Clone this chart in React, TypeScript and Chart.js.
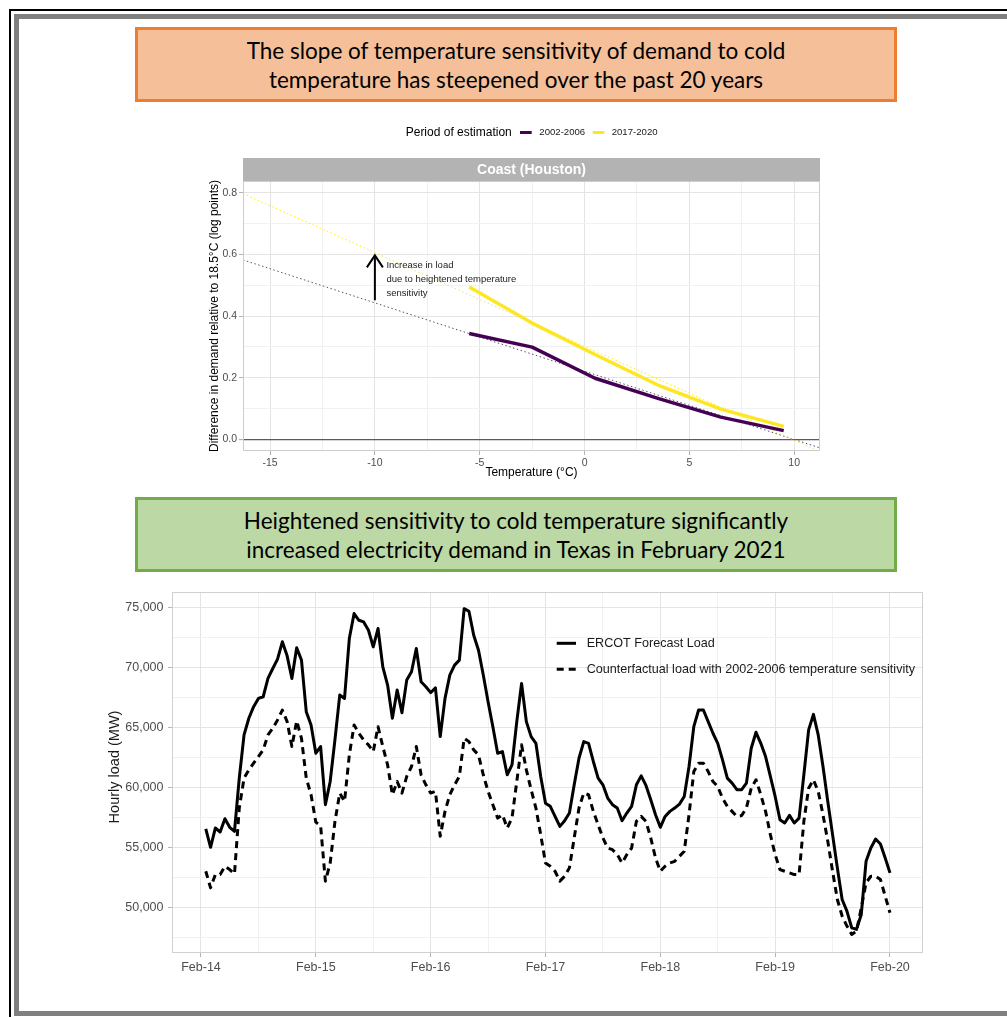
import React, { useEffect, useRef } from "react";
import { Chart, registerables } from "chart.js";

Chart.register(...registerables);

// ---------- Top panel: temperature sensitivity (Coast / Houston) ----------
const stripLabel = "Coast (Houston)";
const legendTitle = "Period of estimation";
const periodLabels = ["2002-2006", "2017-2020"];
const periodColors = ["#440154", "#FDE725"];

const tempKnots = [-5.5, -2.5, 0.5, 3.5, 6.5, 9.5];
const effect2002 = [0.343, 0.299, 0.198, 0.133, 0.072, 0.028];
const effect2017 = [0.494, 0.377, 0.275, 0.176, 0.098, 0.042];

const trendTemps = [-16.29, 11.23];
const trend2002 = [0.582, -0.028];
const trend2017 = [0.797, -0.04];

const tempTicks = [-15, -12.5, -10, -7.5, -5, -2.5, 0, 2.5, 5, 7.5, 10];
const tempLabelTicks = [-15, -10, -5, 0, 5, 10];
const effectTicks = [0, 0.1, 0.2, 0.3, 0.4, 0.5, 0.6, 0.7, 0.8];
const effectLabelTicks = [0, 0.2, 0.4, 0.6, 0.8];

const arrowTemp = -10;
const arrowFrom = 0.451;
const arrowTo = 0.6;
const annotationLines = ["Increase in load", "due to heightened temperature", "sensitivity"];

const topXTitle = "Temperature (°C)";
const topYTitle = "Difference in demand relative to 18.5°C (log points)";

// ---------- Bottom panel: hourly load ----------
const dayLabels = ["Feb-14", "Feb-15", "Feb-16", "Feb-17", "Feb-18", "Feb-19", "Feb-20"];
const dayGridHours = [0, 12, 24, 36, 48, 60, 72, 84, 96, 108, 120, 132, 144];
const loadTicks = [47500, 50000, 52500, 55000, 57500, 60000, 62500, 65000, 67500, 70000, 72500, 75000];
const firstHour = 1;

const ercotLoad = [
  56530, 55000, 56610, 56280, 57390, 56670, 56330, 60780, 64390, 65780, 66750, 67440,
  67580, 69110, 69940, 70720, 72170, 71000, 69110, 71670, 70640, 66330, 65220, 62860,
  63420, 58560, 60500, 64000, 67720, 67440, 72440, 74530, 73970, 73830, 73140, 71750,
  73280, 70080, 68560, 65780, 68140, 66250, 68970, 69670, 71610, 68830, 68420, 67920,
  68330, 64250, 67440, 69390, 70220, 70640, 74940, 74720, 72720, 71470, 69390, 67170,
  65080, 62860, 63000, 61060, 61890, 65500, 68690, 65500, 64250, 63690, 60920, 58690,
  58420, 57580, 56750, 57220, 57860, 60220, 62440, 63830, 63690, 62170, 60780, 60220,
  59110, 58560, 58280, 57220, 57860, 58420, 60220, 60970, 60170, 58970, 57720, 56670,
  57580, 58000, 58280, 58610, 59250, 61750, 65080, 66470, 66470, 65500, 64530, 63690,
  62310, 60780, 60360, 59810, 59810, 60360, 63280, 64610, 63690, 62580, 60920, 59250,
  57310, 57030, 57670, 57030, 57440, 61060, 64810, 66110, 64390, 61750, 58830, 56060,
  53280, 50640, 49670, 48280, 48140, 49390, 53830, 54940, 55690, 55280, 54110, 52860,
];

const counterfactualLoad = [
  53000, 51610, 52720, 52720, 53420, 53140, 52780, 58280, 60780, 61470, 62030, 62580,
  63140, 64390, 64940, 65640, 66470, 65500, 63420, 65560, 64110, 60780, 59390, 57100,
  56800, 52170, 53690, 57170, 59530, 58830, 62720, 65220, 64530, 63970, 63560, 63000,
  65080, 63420, 61890, 59390, 60500, 59530, 60920, 61750, 63420, 61060, 60220, 59530,
  59670, 55920, 58000, 59390, 60220, 60920, 64110, 63830, 63140, 62720, 61060, 59670,
  58560, 57440, 57720, 56610, 57440, 60500, 63560, 61470, 59810, 58280, 56060, 53690,
  53420, 53000, 52170, 52580, 53280, 55780, 58280, 59530, 59390, 58000, 56890, 55780,
  54940, 54800, 54390, 53690, 54390, 54940, 57170, 57580, 57170, 55780, 54110, 53000,
  53420, 53690, 53830, 54250, 54670, 57720, 61330, 62030, 62030, 61330, 60500, 60080,
  59110, 58420, 58000, 57580, 57650, 58300, 59940, 60640, 59390, 58000, 56060, 54390,
  53140, 53000, 52860, 52720, 52720, 57170, 59940, 60640, 59670, 57720, 55500, 53000,
  50640, 49250, 48420, 47720, 48000, 49940, 52030, 52580, 52580, 52310, 50920, 49530,
];

const seriesLabels = ["ERCOT Forecast Load", "Counterfactual load with 2002-2006 temperature sensitivity"];
const bottomYTitle = "Hourly load (MW)";

const FONT = '"Liberation Sans", Arial, sans-serif';
const MAJOR_GRID = "#E4E4E4";
const MINOR_GRID = "#F1F1F1";
const TICK_COLOR = "#B3B3B3";
const TICK_TEXT = "#4D4D4D";

const isIn = (arr: number[], v: number) => arr.some((a) => Math.abs(a - v) < 1e-6);

function TopChart() {
  const ref = useRef<HTMLCanvasElement | null>(null);
  useEffect(() => {
    const canvas = ref.current!;
    const decor = {
      id: "topDecor",
      afterDatasetsDraw(chart: any) {
        const { ctx, chartArea: a, scales } = chart;
        const x = scales.x;
        const y = scales.y;
        ctx.save();
        // arrow annotation
        const ax = x.getPixelForValue(arrowTemp);
        const y0 = y.getPixelForValue(arrowFrom);
        const y1 = y.getPixelForValue(arrowTo);
        ctx.strokeStyle = "#000";
        ctx.lineWidth = 2;
        ctx.beginPath();
        ctx.moveTo(ax, y0);
        ctx.lineTo(ax, y1 + 1);
        ctx.stroke();
        ctx.beginPath();
        ctx.moveTo(ax - 8, y1 + 13);
        ctx.lineTo(ax, y1 + 1);
        ctx.lineTo(ax + 8, y1 + 13);
        ctx.stroke();
        ctx.fillStyle = "#222";
        ctx.font = `9.5px ${FONT}`;
        ctx.textAlign = "left";
        ctx.textBaseline = "middle";
        annotationLines.forEach((t, i) => ctx.fillText(t, ax + 11.5, y1 + 11.5 + i * 14));
        // panel border
        ctx.strokeStyle = "#CDCDCD";
        ctx.lineWidth = 1;
        ctx.strokeRect(a.left + 0.5, a.top + 0.5, a.right - a.left - 1, a.bottom - a.top - 1);
        // strip
        ctx.fillStyle = "#B3B3B3";
        ctx.fillRect(a.left, 43, a.right - a.left, a.top - 43);
        ctx.fillStyle = "#fff";
        ctx.font = `bold 14px ${FONT}`;
        ctx.textAlign = "center";
        ctx.fillText(stripLabel, (a.left + a.right) / 2, (43 + a.top) / 2 + 0.5);
        // legend
        ctx.fillStyle = "#000";
        ctx.font = `12px ${FONT}`;
        ctx.textAlign = "left";
        ctx.fillText(legendTitle, 215.7, 17.5);
        const keyX = [330, 402.7];
        const textX = [349.3, 421.7];
        ctx.font = `9.6px ${FONT}`;
        periodLabels.forEach((lab, i) => {
          ctx.strokeStyle = periodColors[i];
          ctx.lineWidth = 3;
          ctx.beginPath();
          ctx.moveTo(keyX[i], 17.5);
          ctx.lineTo(keyX[i] + 11.7, 17.5);
          ctx.stroke();
          ctx.fillStyle = "#1a1a1a";
          ctx.fillText(lab, textX[i], 17.5);
        });
        // axis titles
        ctx.fillStyle = "#000";
        ctx.font = `12px ${FONT}`;
        ctx.textAlign = "center";
        ctx.fillText(topXTitle, (a.left + a.right) / 2, 358);
        ctx.translate(25, (a.top + a.bottom) / 2);
        ctx.rotate(-Math.PI / 2);
        ctx.fillText(topYTitle, 0, 0);
        ctx.restore();
      },
    };
    const toPts = (xs: number[], ys: number[]) => xs.map((v, i) => ({ x: v, y: ys[i] }));
    const chart = new Chart(canvas, {
      type: "scatter",
      data: {
        datasets: [
          { data: toPts(tempKnots, effect2017), showLine: true, borderColor: periodColors[1], borderWidth: 3.5, pointRadius: 0, borderCapStyle: "butt", borderJoinStyle: "round" },
          { data: toPts(tempKnots, effect2002), showLine: true, borderColor: periodColors[0], borderWidth: 3.5, pointRadius: 0, borderCapStyle: "butt", borderJoinStyle: "round" },
          { data: toPts(trendTemps, trend2017), showLine: true, borderColor: periodColors[1], borderWidth: 1, borderDash: [1.5, 2.5], pointRadius: 0 },
          { data: toPts(trendTemps, trend2002), showLine: true, borderColor: "#5B4A6E", borderWidth: 1, borderDash: [1.5, 2.5], pointRadius: 0 },
        ],
      } as any,
      options: {
        animation: false,
        responsive: false,
        maintainAspectRatio: false,
        layout: { padding: { left: 0, right: 10, top: 66, bottom: 0 } },
        plugins: { legend: { display: false }, tooltip: { enabled: false } },
        scales: {
          x: {
            type: "linear",
            min: trendTemps[0],
            max: trendTemps[1],
            afterBuildTicks: (s: any) => { s.ticks = tempTicks.map((v) => ({ value: v })); },
            afterFit: (s: any) => { s.height = 34; },
            border: { display: false },
            grid: {
              color: (c: any) => (isIn(tempLabelTicks, c.tick.value) ? MAJOR_GRID : MINOR_GRID),
              tickColor: (c: any) => (isIn(tempLabelTicks, c.tick.value) ? TICK_COLOR : "rgba(0,0,0,0)"),
              tickLength: 4,
              lineWidth: 1,
            },
            ticks: {
              autoSkip: false,
              maxRotation: 0,
              padding: 1.5,
              color: TICK_TEXT,
              font: { family: FONT, size: 10.5 },
              callback: (v: any) => (isIn(tempLabelTicks, Number(v)) ? String(v) : ""),
            },
          },
          y: {
            type: "linear",
            min: -0.038,
            max: 0.838,
            afterBuildTicks: (s: any) => { s.ticks = effectTicks.map((v) => ({ value: v })); },
            afterFit: (s: any) => { s.width = 53; },
            border: { display: false },
            grid: {
              color: (c: any) => (Math.abs(c.tick.value) < 1e-6 ? "#5A5A5A" : isIn(effectLabelTicks, c.tick.value) ? MAJOR_GRID : MINOR_GRID),
              lineWidth: (c: any) => (Math.abs(c.tick.value) < 1e-6 ? 1.2 : 1),
              tickColor: (c: any) => (isIn(effectLabelTicks, c.tick.value) ? TICK_COLOR : "rgba(0,0,0,0)"),
              tickLength: 4,
            },
            ticks: {
              autoSkip: false,
              padding: 2,
              color: TICK_TEXT,
              font: { family: FONT, size: 10.5 },
              callback: (v: any) => (isIn(effectLabelTicks, Number(v)) ? Number(v).toFixed(1) : ""),
            },
          },
        },
      } as any,
      plugins: [decor],
    });
    return () => chart.destroy();
  }, []);
  return (
    <canvas
      ref={ref}
      width={640}
      height={370}
      style={{ position: "absolute", left: 190, top: 115, width: 640, height: 370 }}
    />
  );
}

function BottomChart() {
  const ref = useRef<HTMLCanvasElement | null>(null);
  useEffect(() => {
    const canvas = ref.current!;
    const decor = {
      id: "bottomDecor",
      afterDatasetsDraw(chart: any) {
        const { ctx, chartArea: a } = chart;
        ctx.save();
        ctx.strokeStyle = "#D0D0D0";
        ctx.lineWidth = 1;
        ctx.strokeRect(a.left + 0.5, a.top + 0.5, a.right - a.left - 1, a.bottom - a.top - 1);
        // legend
        const ly = [63.3, 89.3];
        ctx.font = `12.6px ${FONT}`;
        ctx.textAlign = "left";
        ctx.textBaseline = "middle";
        seriesLabels.forEach((lab, i) => {
          ctx.strokeStyle = "#000";
          ctx.lineWidth = 3;
          ctx.setLineDash(i === 0 ? [] : [7, 5]);
          ctx.beginPath();
          ctx.moveTo(461.7, ly[i]);
          ctx.lineTo(481, ly[i]);
          ctx.stroke();
          ctx.setLineDash([]);
          ctx.fillStyle = "#1a1a1a";
          ctx.fillText(lab, 491.7, ly[i]);
        });
        // y title
        ctx.fillStyle = "#1a1a1a";
        ctx.font = `14.5px ${FONT}`;
        ctx.textAlign = "center";
        ctx.translate(19.5, 187);
        ctx.rotate(-Math.PI / 2);
        ctx.fillText(bottomYTitle, 0, 0);
        ctx.restore();
      },
    };
    const hours = ercotLoad.map((_, i) => firstHour + i);
    const chart = new Chart(canvas, {
      type: "scatter",
      data: {
        datasets: [
          { data: hours.map((h, i) => ({ x: h, y: ercotLoad[i] })), showLine: true, borderColor: "#000", borderWidth: 3, pointRadius: 0, borderJoinStyle: "round", borderCapStyle: "butt" },
          { data: hours.map((h, i) => ({ x: h, y: counterfactualLoad[i] })), showLine: true, borderColor: "#000", borderWidth: 3, borderDash: [7, 5], pointRadius: 0, borderJoinStyle: "round", borderCapStyle: "butt" },
        ],
      } as any,
      options: {
        animation: false,
        responsive: false,
        maintainAspectRatio: false,
        layout: { padding: { left: 0, right: 12, top: 10, bottom: 0 } },
        plugins: { legend: { display: false }, tooltip: { enabled: false } },
        scales: {
          x: {
            type: "linear",
            min: -6.06,
            max: 150.9,
            afterBuildTicks: (s: any) => { s.ticks = dayGridHours.map((v) => ({ value: v })); },
            afterFit: (s: any) => { s.height = 27; },
            border: { display: false },
            grid: {
              color: (c: any) => (c.tick.value % 24 === 0 ? MAJOR_GRID : MINOR_GRID),
              tickColor: (c: any) => (c.tick.value % 24 === 0 ? TICK_COLOR : "rgba(0,0,0,0)"),
              tickLength: 4,
              lineWidth: 1,
            },
            ticks: {
              autoSkip: false,
              maxRotation: 0,
              padding: 3,
              color: TICK_TEXT,
              font: { family: FONT, size: 12.5 },
              callback: (v: any) => (Number(v) % 24 === 0 ? dayLabels[Number(v) / 24] : ""),
            },
          },
          y: {
            type: "linear",
            min: 46167,
            max: 76333,
            afterBuildTicks: (s: any) => { s.ticks = loadTicks.map((v) => ({ value: v })); },
            afterFit: (s: any) => { s.width = 77; },
            border: { display: false },
            grid: {
              color: (c: any) => (c.tick.value % 5000 === 0 ? MAJOR_GRID : MINOR_GRID),
              tickColor: (c: any) => (c.tick.value % 5000 === 0 ? TICK_COLOR : "rgba(0,0,0,0)"),
              tickLength: 4,
              lineWidth: 1,
            },
            ticks: {
              autoSkip: false,
              padding: 4.5,
              color: TICK_TEXT,
              font: { family: FONT, size: 12.5 },
              callback: (v: any) => (Number(v) % 5000 === 0 ? Number(v).toLocaleString("en-US") : ""),
            },
          },
        },
      } as any,
      plugins: [decor],
    });
    return () => chart.destroy();
  }, []);
  return (
    <canvas
      ref={ref}
      width={840}
      height={400}
      style={{ position: "absolute", left: 95, top: 580, width: 840, height: 400 }}
    />
  );
}

const boxText: React.CSSProperties = {
  fontFamily: "Lato, 'Open Sans', sans-serif",
  fontSize: 22.5,
  lineHeight: "29px",
  color: "#000",
  textAlign: "center",
};

function TitleBox(props: { top: number; border: string; fill: string; lines: string[] }) {
  return (
    <div
      style={{
        position: "absolute",
        left: 135,
        top: props.top,
        width: 762,
        height: 75,
        boxSizing: "border-box",
        border: `3px solid ${props.border}`,
        background: props.fill,
        display: "flex",
        alignItems: "center",
        justifyContent: "center",
      }}
    >
      <div style={boxText}>
        {props.lines.map((l, i) => (
          <div key={i}>{l}</div>
        ))}
      </div>
    </div>
  );
}

export default function App() {
  return (
    <div style={{ position: "fixed", left: 0, top: 0, width: 1007, height: 1017, overflow: "hidden", background: "#fff" }}>
      <div style={{ position: "absolute", left: 9, top: 9, width: 1300, height: 1012, border: "2px solid #000", boxSizing: "border-box" }} />
      <div style={{ position: "absolute", left: 14, top: 14, width: 1300, height: 1002, border: "5px solid #808080", boxSizing: "border-box" }} />
      <TitleBox
        top={27}
        border="#ED7D31"
        fill="#F4BF99"
        lines={["The slope of temperature sensitivity of demand to cold", "temperature has steepened over the past 20 years"]}
      />
      <TopChart />
      <TitleBox
        top={497}
        border="#70AD47"
        fill="#BBD8A5"
        lines={["Heightened sensitivity to cold temperature significantly", "increased electricity demand in Texas in February 2021"]}
      />
      <BottomChart />
    </div>
  );
}
